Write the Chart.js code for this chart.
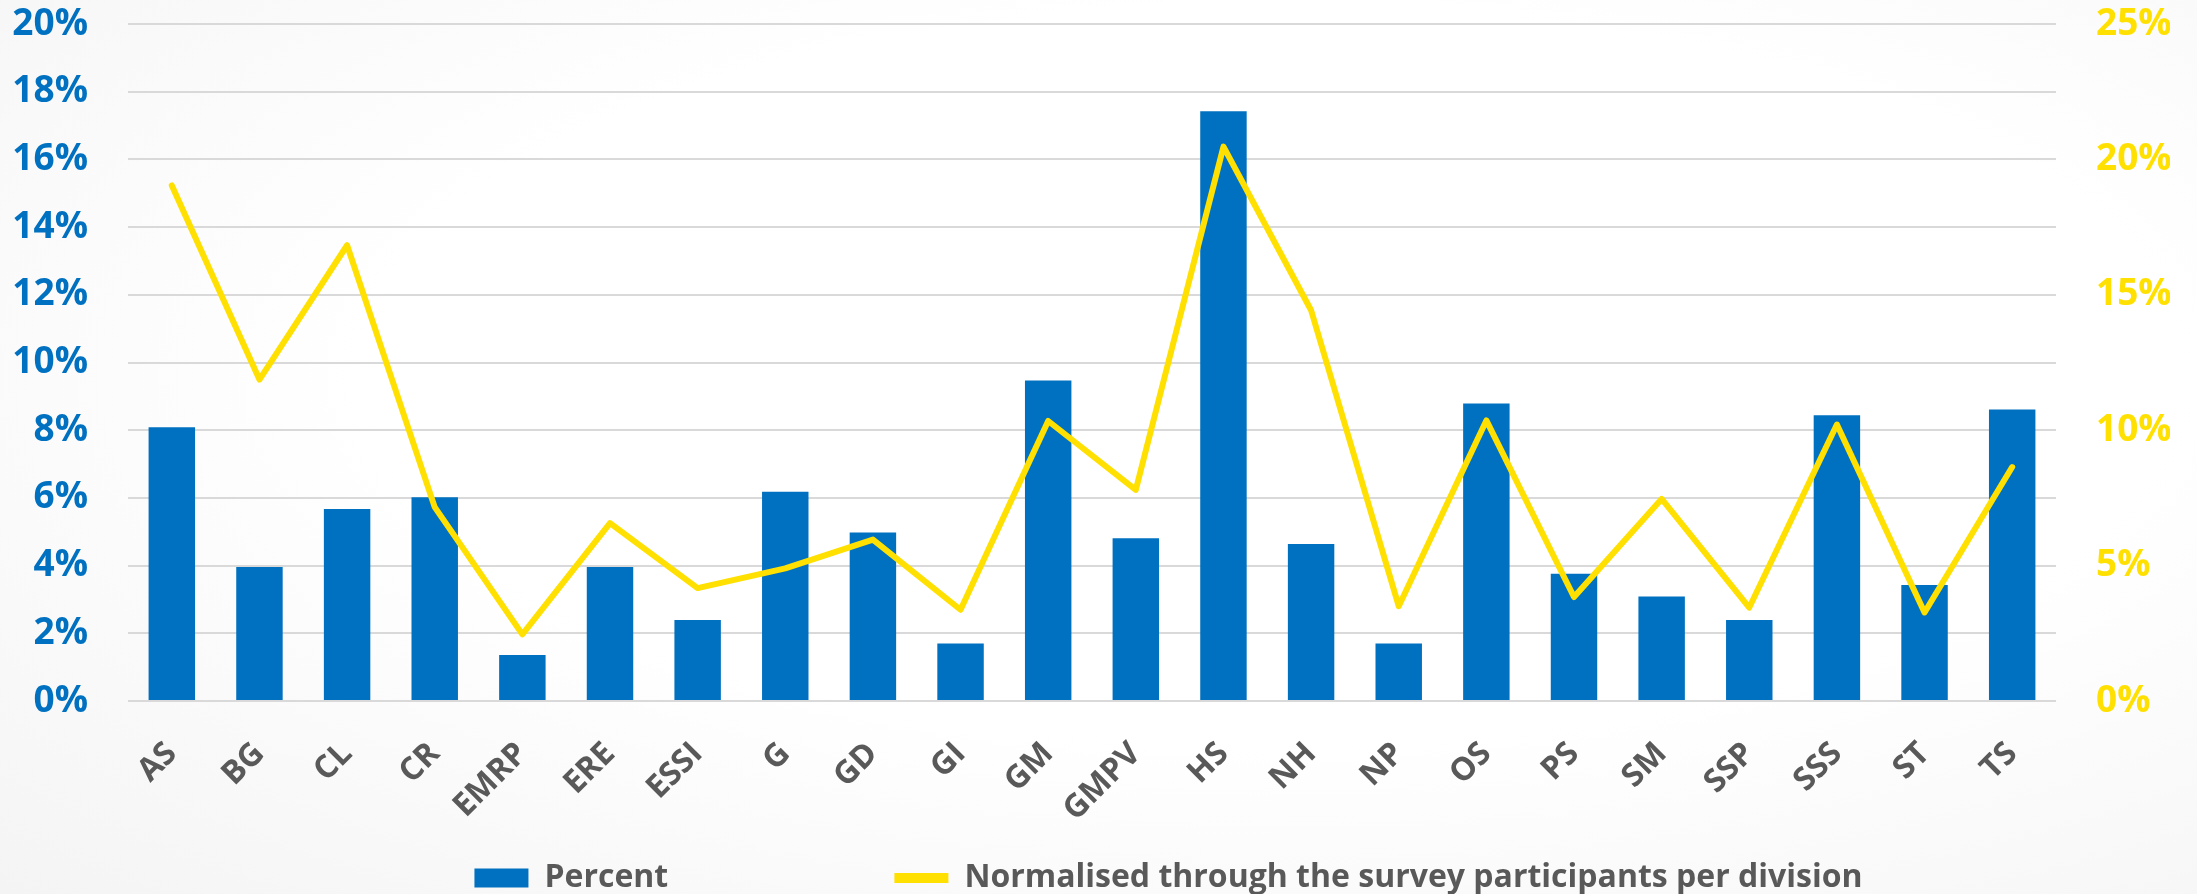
<!DOCTYPE html>
<html>
<head>
<meta charset="utf-8">
<script src="https://cdn.jsdelivr.net/npm/chart.js@4.4.1/dist/chart.umd.min.js"></script>
<style>
  html, body { margin: 0; padding: 0; }
  body {
    width: 2197px; height: 894px; overflow: hidden;
    background: radial-gradient(ellipse at 58% 42%, #ffffff 50%, #f4f4f4 100%);
  }
  #wrap { position: relative; width: 2197px; height: 894px; }
</style>
</head>
<body>
<div id="wrap"><canvas id="divisionChart"></canvas></div>
<script>
// divisions (x axis)
const divisions = ["AS", "BG", "CL", "CR", "EMRP", "ERE", "ESSI", "G", "GD", "GI", "GM",
                   "GMPV", "HS", "NH", "NP", "OS", "PS", "SM", "SSP", "SSS", "ST", "TS"];

// share of answers per division, left axis (%)
const percentValues = [8.09, 3.96, 5.67, 6.02, 1.36, 3.96, 2.39, 6.18, 4.98, 1.70, 9.47,
                       4.81, 17.42, 4.64, 1.70, 8.79, 3.76, 3.09, 2.39, 8.44, 3.43, 8.61];

// normalised through the participants per division, right axis (%)
const normalisedValues = [19.04, 11.87, 16.83, 7.16, 2.46, 6.57, 4.17, 4.90, 5.96, 3.37, 10.34,
                          7.80, 20.47, 14.43, 3.50, 10.36, 3.84, 7.46, 3.45, 10.21, 3.27, 8.64];

const seriesNames = ["Percent", "Normalised through the survey participants per division"];

// axis ranges (%)
const leftTicks = { min: 0, max: 20, step: 2 };
const rightTicks = { min: 0, max: 25, step: 5 };

const BLUE = "#0070C0";
const YELLOW = "#FFE000";
const GREY_TEXT = "#595959";

// Excel puts the legend a bit right of centre with a wide gap between the entries
const legendShift = {
    id: "legendShift",
    afterUpdate(chart) {
        const lg = chart.legend;
        if (!lg) return;
        lg.left += 77;
        lg.right += 77;
    }
};

new Chart(document.getElementById("divisionChart"), {
    type: "bar",
    data: {
        labels: divisions,
        datasets: [
            {
                label: seriesNames[0],
                data: percentValues,
                backgroundColor: BLUE,
                borderWidth: 0,
                pointStyle: "rect",
                categoryPercentage: 1,
                barPercentage: 0.53,
                yAxisID: "y",
                order: 1
            },
            {
                type: "line",
                label: seriesNames[1],
                data: normalisedValues,
                borderColor: YELLOW,
                backgroundColor: YELLOW,
                borderWidth: 6,
                borderJoinStyle: "round",
                borderCapStyle: "round",
                pointRadius: 0,
                pointStyle: "line",
                tension: 0,
                yAxisID: "y1",
                order: 0
            }
        ]
    },
    options: {
        responsive: true,
        maintainAspectRatio: false,
        animation: false,
        layout: { padding: { left: 13, right: 27, top: 0, bottom: -10 } },
        scales: {
            x: {
                grid: { display: false, drawTicks: false },
                border: { display: false },
                ticks: {
                    color: GREY_TEXT,
                    font: { family: "'Open Sans'", size: 32, weight: "bold" },
                    minRotation: 45,
                    maxRotation: 45,
                    autoSkip: false,
                    padding: 34
                },
                afterFit: s => { s.height = 151; }
            },
            y: {
                position: "left",
                min: leftTicks.min,
                max: leftTicks.max,
                border: { display: false },
                grid: { color: "#D9D9D9", lineWidth: 2, drawTicks: false },
                ticks: {
                    stepSize: leftTicks.step,
                    color: BLUE,
                    padding: 40,
                    font: { family: "'Open Sans'", size: 37, weight: "bold" },
                    callback: v => v + "%"
                },
                afterFit: s => { s.width = 115; s.paddingTop = 24; s.paddingBottom = 0; }
            },
            y1: {
                position: "right",
                min: rightTicks.min,
                max: rightTicks.max,
                border: { display: false },
                grid: { drawOnChartArea: false, drawTicks: false },
                ticks: {
                    stepSize: rightTicks.step,
                    color: YELLOW,
                    padding: 40,
                    font: { family: "'Open Sans'", size: 37, weight: "bold" },
                    callback: v => v + "%"
                },
                afterFit: s => { s.width = 114; s.paddingTop = 24; s.paddingBottom = 0; }
            }
        },
        plugins: {
            tooltip: { enabled: false },
            legend: {
                position: "bottom",
                labels: {
                    usePointStyle: true,
                    pointStyleWidth: 54,
                    boxHeight: 19,
                    padding: 10,
                    color: GREY_TEXT,
                    font: { family: "'Open Sans'", size: 32, weight: "bold" },
                    generateLabels(chart) {
                        const items = Chart.defaults.plugins.legend.labels.generateLabels(chart);
                        items.sort((a, b) => a.datasetIndex - b.datasetIndex);
                        // wide gap after the first entry, as in the original
                        items[0].text = items[0].text + " ".repeat(26);
                        items[1].lineWidth = 10;
                        return items;
                    }
                }
            }
        }
    },
    plugins: [legendShift]
});
</script>
</body>
</html>
